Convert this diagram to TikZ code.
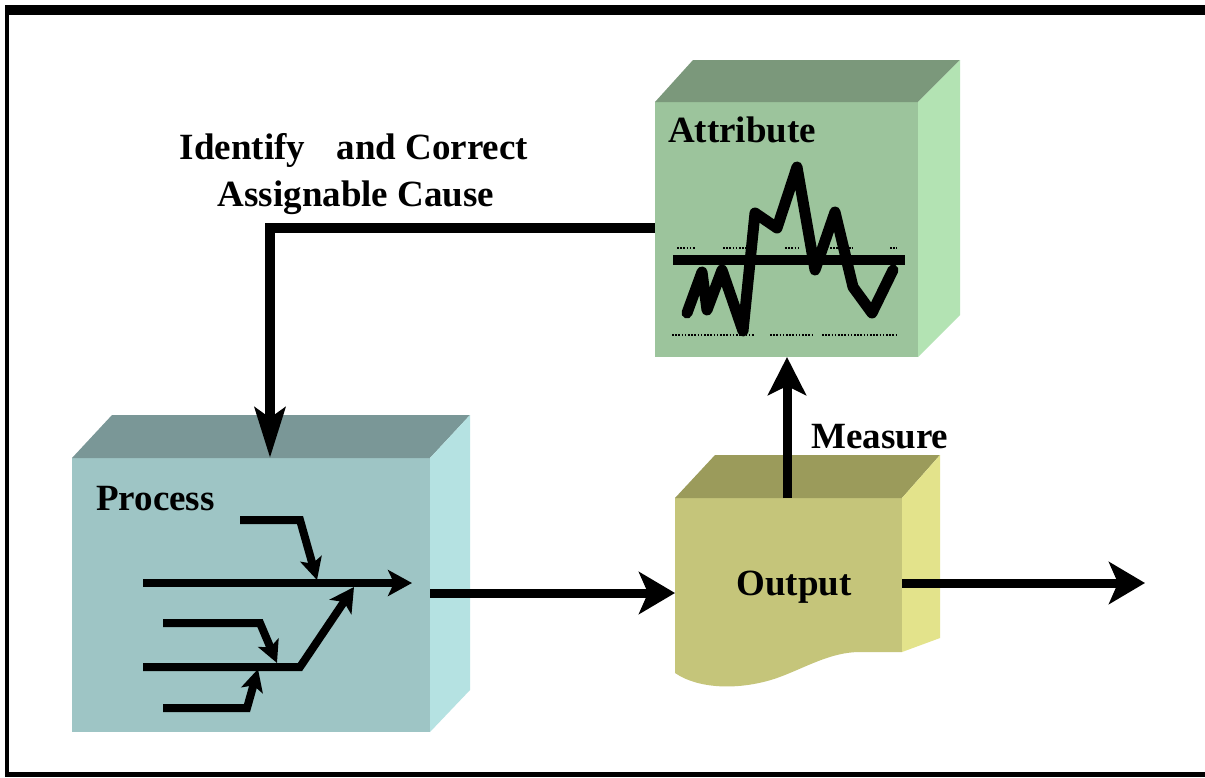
\documentclass[tikz,border=0pt]{standalone}
\usepackage{fontspec}
\setmainfont{Liberation Serif}
\usetikzlibrary{arrows.meta,calc}

\definecolor{procFront}{HTML}{9EC5C5}
\definecolor{procTop}{HTML}{7A9797}
\definecolor{procSide}{HTML}{B5E2E2}
\definecolor{attrFront}{HTML}{9CC49C}
\definecolor{attrTop}{HTML}{7B987B}
\definecolor{attrSide}{HTML}{B3E3B3}
\definecolor{outFront}{HTML}{C5C57A}
\definecolor{outTop}{HTML}{9B9B5B}
\definecolor{outSide}{HTML}{E3E38B}

\begin{document}
\begin{tikzpicture}[x=1pt,y=-1pt,
  face/.style={draw=none, inner sep=0pt, outer sep=0pt, anchor=north west},
  lbl/.style={font=\fontsize{37}{47}\selectfont\bfseries, inner sep=0pt, text=black},
  conn/.style={line width=9pt, -{Stealth[length=36pt,width=42pt,inset=9pt]}},
  feedback/.style={line width=10pt, line join=miter, -{Stealth[length=50pt,width=30pt,inset=10pt]}},
  flow/.style={line width=8pt, line join=miter, -{Stealth[length=24pt,width=26pt,inset=6pt]}},
  feeder/.style={line width=8pt, line join=miter, -{Stealth[length=22pt,width=22pt,inset=5pt]}},
  limit/.style={line width=2pt, dash pattern=on 1.6pt off 1.6pt},
]
\useasboundingbox (0,0) rectangle (1205,777);
\fill[white] (0,0) rectangle (1205,777);

% outer frame
\fill[black] (5,5) rectangle (1205,15);
\fill[black] (5,5) rectangle (9,777);
\fill[black] (5,772) rectangle (1205,777);

% ---- Process box ----
\node[face, fill=procFront, minimum width=358pt, minimum height=274pt] (proc) at (72,458) {};
\fill[procTop] (proc.north west) -- ++(40,-43) -- (470,415) -- (proc.north east) -- cycle;
\fill[procSide] (proc.north east) -- (470,415) -- (470,690) -- (proc.south east) -- cycle;

% ---- Attribute box ----
\node[face, fill=attrFront, minimum width=263pt, minimum height=255pt] (attr) at (655,102) {};
\fill[attrTop] (attr.north west) -- (693,60) -- (960,60) -- (attr.north east) -- cycle;
\fill[attrSide] (attr.north east) -- (960,60) -- (960,315) -- (attr.south east) -- cycle;

% ---- Output box (wavy bottom edge) ----
\node[face, fill=outFront, minimum width=227pt, minimum height=154pt] (out) at (675,498) {};
\fill[outFront] (out.south west) -- (675,673)
  .. controls (700,690) and (742,690) .. (777,678)
  .. controls (805,668) and (830,652) .. (860,652) -- (out.south east) -- cycle;
\fill[outTop] (out.north west) -- (715,455) -- (940,455) -- (out.north east) -- cycle;
\fill[outSide] (out.north east) -- (940,455) -- (940,638) -- (out.south east) -- cycle;

% ---- labels ----
\node[lbl, anchor=base west] (procLbl) at (96,510) {Process};
\node[lbl, anchor=base west] (attrLbl) at (668,142) {Attribute};
\node[lbl, anchor=base] (outLbl) at (794,595) {Output};
\node[lbl, anchor=base west] (measLbl) at (811,448) {Measure};
\node[lbl, anchor=base] (fbLbl1) at (354,159) {Identify\hspace{22pt} and Correct};
\node[lbl, anchor=base] (fbLbl2) at (356,206) {Assignable Cause};

% ---- control chart inside the attribute box ----
\draw[limit] (677,248) -- (695,248);
\draw[limit] (723,248) -- (747,248);
\draw[limit] (785,248) -- (798,248);
\draw[limit] (830,248) -- (853,248);
\draw[limit] (890,248) -- (897,248);
\draw[limit] (672,335) -- (755,335);
\draw[limit] (770,335) -- (813,335);
\draw[limit] (822,335) -- (897,335);
\draw[line width=10pt] (673,260) -- (905,260);
\draw[line width=11pt, line join=round, line cap=round]
  (687,313) -- (702,272) -- (707,310) -- (722,270) -- (743,331) -- (755,213)
  -- (777,228) -- (797,167) -- (815,270) -- (835,212) -- (853,287)
  -- (872,313) -- (893,270);

% ---- flow pictogram inside the process box ----
\draw[flow] (143,583) -- (412,583);
\draw[feeder] (240,520) -- (300,520) -- (317,580);
\draw[feeder] (163,623) -- (260,623) -- (277,663);
\draw[flow] (143,667) -- (300,667) -- (354,587);
\draw[feeder] (163,708) -- (247,708) -- (258,669);

% ---- connectors ----
\coordinate (fbStart) at (655,228);
\coordinate (fbCorner) at (270,228);
\draw[feedback] (fbStart) -- (fbCorner) -- (fbCorner |- proc.north);

\coordinate (p2o) at (430,593);
\draw[conn] (p2o) -- (p2o -| out.west);

\coordinate (exitEnd) at (1145,583);
\draw[conn] (exitEnd -| out.east) -- (exitEnd);

\coordinate (measX) at (787,0);
\draw[conn, -{Stealth[length=38pt,width=38pt,inset=9pt]}] (measX |- out.north) -- (measX |- attr.south);
\end{tikzpicture}
\end{document}
